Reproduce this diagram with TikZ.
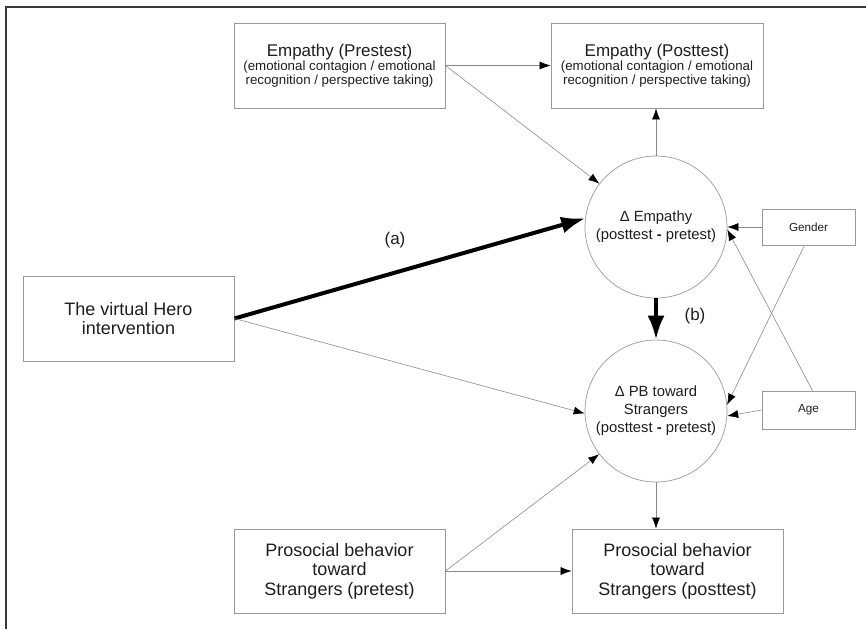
\documentclass[tikz,border=0pt]{standalone}
\usepackage{fontspec}
\setmainfont{Liberation Sans}
\usetikzlibrary{arrows.meta}
\definecolor{txt}{HTML}{1E1E1E}
\definecolor{ln}{HTML}{8A8A8A}
\definecolor{bx}{HTML}{9A9A9A}
\definecolor{fr}{HTML}{3A3A3A}
\newcommand{\hdfont}{\fontsize{17}{19}\selectfont}
\newcommand{\subfont}{\fontsize{13.3}{15.5}\selectfont}
\begin{document}
\begin{tikzpicture}[x=1pt,y=-1pt,
  box/.style={draw=bx, line width=0.8pt, rectangle, align=center, inner sep=0pt, text=txt},
  circ/.style={draw=bx, line width=0.7pt, circle, minimum size=142pt, inner sep=0pt, align=center, text=txt,
    font=\fontsize{14.8}{18}\selectfont},
  thinarr/.style={draw=ln, line width=0.6pt, -{Latex[length=11pt,width=8pt,color=black]}},
  thickarr/.style={draw=black, line width=4pt, -{Latex[length=24pt,width=17pt]}},
  small/.style={box, font=\fontsize{11.7}{14}\selectfont},
  big/.style={box, font=\fontsize{18}{19.5}\selectfont},
  lbl/.style={text=txt, font=\fontsize{17}{20}\selectfont, inner sep=0pt}
]
\useasboundingbox (0,0) rectangle (866,629);
\draw[fr, line width=2pt] (6,629) -- (6,7) -- (866,7);

\node[box, minimum width=211pt, minimum height=85pt] (pre) at (339.5,65.5)
  {\hdfont Empathy (Prestest)\\
   \subfont (emotional contagion / emotional\\
   \subfont recognition / perspective taking)};
\node[box, minimum width=212pt, minimum height=85pt] (post) at (657,65.5)
  {\hdfont Empathy (Posttest)\\
   \subfont (emotional contagion / emotional\\
   \subfont recognition / perspective taking)};
\node[big, minimum width=211pt, minimum height=85pt] (hero) at (128.5,318.5)
  {The virtual Hero\\intervention};
\node[small, minimum width=93pt, minimum height=36pt] (gender) at (808.5,227) {Gender};
\node[small, minimum width=93pt, minimum height=38pt] (age) at (808.5,410) {Age};
\node[big, minimum width=211pt, minimum height=84pt] (ppre) at (339.5,571)
  {Prosocial behavior\\toward\\Strangers (pretest)};
\node[big, minimum width=211pt, minimum height=84pt] (ppost) at (677.5,571)
  {Prosocial behavior\\toward\\Strangers (posttest)};
\node[circ] (c1) at (656,227) {Δ Empathy\\(posttest \textbf{-} pretest)};
\node[circ] (c2) at (656,411) {Δ PB toward\\Strangers\\(posttest \textbf{-} pretest)};

\node[lbl] (la) at (395,240) {(a)};
\node[lbl] (lb) at (695,316) {(b)};

\draw[thinarr] (pre.east) -- (post.west);
\draw[thinarr] (pre.east) -- (c1);
\draw[thinarr] (c1.north) -- (c1.north |- post.south);
\draw[thickarr] (hero.east) -- (c1.173);
\draw[thinarr] (hero.east) -- (c2.182);
\draw[thickarr] (c1.south) -- (c2.north);
\draw[thinarr] (gender.west) -- (c1.east);
\draw[thinarr] ([xshift=-4pt]gender.south) -- (c2.5);
\draw[thinarr] ([xshift=4pt]age.north) -- (c1.-2);
\draw[thinarr] (age.west) -- (c2.-4);
\draw[thinarr] (ppre.east) -- (c2);
\draw[thinarr] (ppre.east) -- (ppost.west);
\draw[thinarr] (c2.south) -- (c2.south |- ppost.north);
\end{tikzpicture}
\end{document}
